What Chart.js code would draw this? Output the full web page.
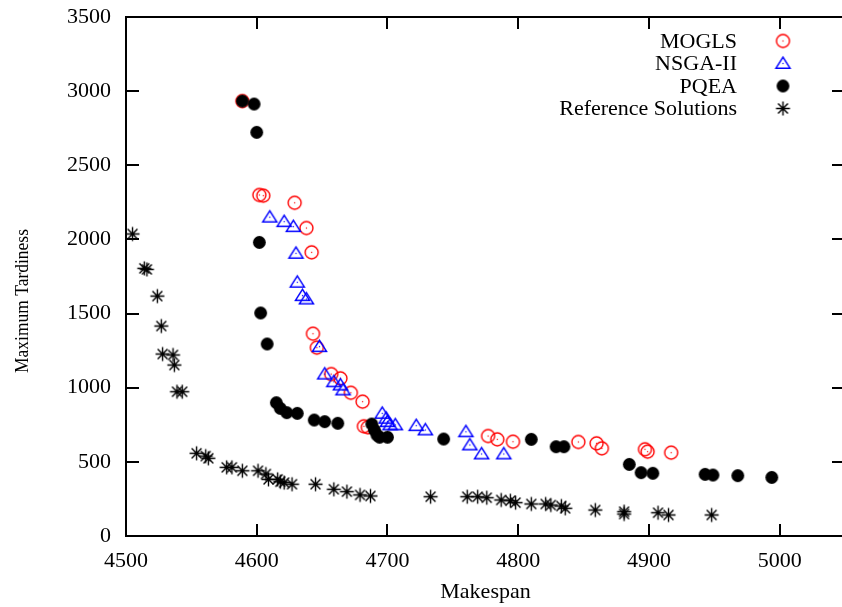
<!DOCTYPE html>
<html><head><meta charset="utf-8">
<script src="https://cdn.jsdelivr.net/npm/chart.js@4"></script>
<style>
html,body{margin:0;padding:0;background:#fff;overflow:hidden;width:842px;height:607px;}
#wrap{width:845px;height:607px;position:relative;}
</style></head><body>
<div id="wrap"><canvas id="c"></canvas></div>
<script>
const seriesNames = ['MOGLS', 'NSGA-II', 'PQEA', 'Reference Solutions'];

const moglsX = [4589, 4602, 4605, 4629, 4638, 4642, 4643, 4646, 4657, 4664, 4672, 4681, 4682, 4685, 4777, 4784, 4796, 4846, 4860, 4864, 4897, 4899, 4917];
const moglsY = [2933, 2300, 2295, 2247, 2077, 1913, 1364, 1270, 1092, 1063, 966, 906, 740, 733, 674, 652, 636, 634, 625, 591, 585, 569, 562];

const nsgaX = [4610, 4621, 4628, 4630, 4631, 4635, 4638, 4648, 4652, 4659, 4664, 4666, 4696, 4699, 4700, 4702, 4706, 4722, 4729, 4760, 4763, 4772, 4789];
const nsgaY = [2150, 2120, 2086, 1906, 1711, 1621, 1598, 1277, 1092, 1040, 1018, 985, 827, 794, 771, 749, 749, 744, 715, 703, 614, 553, 553];

const pqeaX = [4589, 4598, 4600, 4602, 4603, 4608, 4615, 4618, 4623, 4631, 4644, 4652, 4662, 4688, 4690, 4692, 4694, 4700, 4743, 4810, 4829, 4835, 4885, 4894, 4903, 4943, 4949, 4968, 4994];
const pqeaY = [2933, 2913, 2722, 1980, 1504, 1295, 899, 861, 832, 827, 782, 771, 760, 755, 715, 681, 666, 666, 654, 652, 602, 602, 483, 427, 423, 416, 411, 407, 395];

const refX = [4505, 4514, 4516, 4524, 4527, 4528, 4536, 4537, 4539, 4543, 4554, 4561, 4563, 4577, 4581, 4589, 4601, 4607, 4609, 4616, 4618, 4621, 4627, 4645, 4659, 4669, 4679, 4687, 4733, 4761, 4769, 4776, 4787, 4794, 4798, 4810, 4821, 4825, 4833, 4836, 4859, 4881, 4881, 4907, 4915, 4948];
const refY = [2037, 1805, 1798, 1618, 1416, 1227, 1221, 1153, 973, 973, 558, 539, 524, 463, 463, 440, 440, 418, 382, 382, 366, 360, 349, 349, 315, 299, 277, 270, 265, 265, 265, 258, 243, 238, 225, 216, 216, 209, 202, 187, 175, 164, 148, 157, 142, 142];

const xTicks = [4500, 4600, 4700, 4800, 4900, 5000];
const yTicks = [0, 500, 1000, 1500, 2000, 2500, 3000, 3500];
const xTitle = 'Makespan';
const yTitle = 'Maximum Tardiness';

const FONT = "'Liberation Serif', 'Times New Roman', serif";

function pts(xs, ys) { return xs.map((x, i) => ({x: x, y: ys[i]})); }

function makeMarker(kind) {
  const s = 19, m = s / 2;
  const c = document.createElement('canvas');
  c.width = s; c.height = s;
  const g = c.getContext('2d');
  if (kind === 'circle') {
    g.strokeStyle = '#ff0000'; g.lineWidth = 1.4;
    g.beginPath(); g.arc(m, m, 6.5, 0, Math.PI * 2); g.stroke();
    g.fillStyle = '#ff0000'; g.fillRect(m - 0.6, m - 0.6, 1.2, 1.2);
  } else if (kind === 'triangle') {
    g.strokeStyle = '#0000ff'; g.lineWidth = 1.5;
    g.beginPath(); g.moveTo(m, m - 6.3); g.lineTo(m + 7, m + 4.7); g.lineTo(m - 7, m + 4.7); g.closePath(); g.stroke();
    g.fillStyle = '#0000ff'; g.fillRect(m - 0.6, m - 0.6, 1.2, 1.2);
  } else if (kind === 'dot') {
    g.fillStyle = '#000000';
    g.beginPath(); g.arc(m, m, 6.4, 0, Math.PI * 2); g.fill();
  } else if (kind === 'star') {
    g.strokeStyle = '#000000'; g.lineWidth = 1.4;
    const r = 7, d = r * 0.7071;
    g.beginPath();
    g.moveTo(m - r, m); g.lineTo(m + r, m);
    g.moveTo(m, m - r); g.lineTo(m, m + r);
    g.moveTo(m - d, m - d); g.lineTo(m + d, m + d);
    g.moveTo(m - d, m + d); g.lineTo(m + d, m - d);
    g.stroke();
  }
  return c;
}

const markers = [makeMarker('circle'), makeMarker('triangle'), makeMarker('dot'), makeMarker('star')];

const framePlugin = {
  id: 'frame',
  afterDatasetsDraw(chart) {
    const {ctx, chartArea: a, scales} = chart;
    const xs = scales.x, ys = scales.y;
    ctx.save();
    ctx.strokeStyle = '#000'; ctx.lineWidth = 2; ctx.lineCap = 'butt';
    ctx.strokeRect(a.left, a.top, a.right - a.left, a.bottom - a.top);
    ctx.beginPath();
    xTicks.forEach(v => {
      const p = Math.round(xs.getPixelForValue(v));
      ctx.moveTo(p, a.bottom); ctx.lineTo(p, a.bottom - 12);
      ctx.moveTo(p, a.top); ctx.lineTo(p, a.top + 12);
    });
    yTicks.forEach(v => {
      const p = Math.round(ys.getPixelForValue(v));
      ctx.moveTo(a.left, p); ctx.lineTo(a.left + 13, p);
      ctx.moveTo(a.right, p); ctx.lineTo(a.right - 13, p);
    });
    ctx.stroke();
    // legend
    ctx.font = '22px ' + FONT;
    ctx.fillStyle = '#000';
    ctx.textAlign = 'right';
    ctx.textBaseline = 'middle';
    chart.data.datasets.forEach((ds, i) => {
      const y = 41 + i * 22.5;
      ctx.fillText(ds.label, 737, y + 1);
      const mk = markers[i];
      ctx.drawImage(mk, 783 - mk.width / 2, y - mk.height / 2);
    });
    // y axis title
    ctx.save();
    ctx.translate(23, 301);
    ctx.rotate(-Math.PI / 2);
    ctx.scale(0.92, 1);
    ctx.font = '19px ' + FONT;
    ctx.textAlign = 'center';
    ctx.fillText(yTitle, 0, 0);
    ctx.restore();
    ctx.restore();
  }
};

function noPad(s) { s.paddingTop = 0; s.paddingBottom = 0; s.paddingLeft = 0; s.paddingRight = 0; }

const datasets = [
  {label: seriesNames[0], data: pts(moglsX, moglsY), pointStyle: markers[0], order: 4},
  {label: seriesNames[1], data: pts(nsgaX, nsgaY), pointStyle: markers[1], order: 3},
  {label: seriesNames[2], data: pts(pqeaX, pqeaY), pointStyle: markers[2], order: 2},
  {label: seriesNames[3], data: pts(refX, refY), pointStyle: markers[3], order: 1}
].map(d => Object.assign(d, {pointRadius: 6, pointHoverRadius: 6, showLine: false}));

new Chart(document.getElementById('c'), {
  type: 'scatter',
  data: {datasets: datasets},
  options: {
    responsive: true,
    maintainAspectRatio: false,
    animation: false,
    events: [],
    layout: {autoPadding: false, padding: {top: 17, right: 0, left: 0, bottom: 0}},
    plugins: {legend: {display: false}, tooltip: {enabled: false}},
    scales: {
      x: {
        type: 'linear', min: 4500, max: 5050,
        grid: {display: false, drawTicks: false},
        border: {display: false},
        afterBuildTicks(s) { s.ticks = xTicks.map(v => ({value: v})); },
        afterFit(s) { s.height = 71; noPad(s); },
        ticks: {color: '#000', font: {family: FONT, size: 22}, padding: 12, maxRotation: 0, autoSkip: false,
                callback: v => String(v)},
        title: {display: true, text: xTitle, color: '#000', font: {family: FONT, size: 22}, padding: {top: 0, bottom: 2}}
      },
      y: {
        type: 'linear', min: 0, max: 3500,
        grid: {display: false, drawTicks: false},
        border: {display: false},
        afterBuildTicks(s) { s.ticks = yTicks.map(v => ({value: v})); },
        afterFit(s) { s.width = 126; noPad(s); },
        ticks: {color: '#000', font: {family: FONT, size: 22}, padding: 15, autoSkip: false,
                callback: v => String(v)},
        title: {display: false}
      }
    }
  },
  plugins: [framePlugin]
});
</script>
</body></html>
